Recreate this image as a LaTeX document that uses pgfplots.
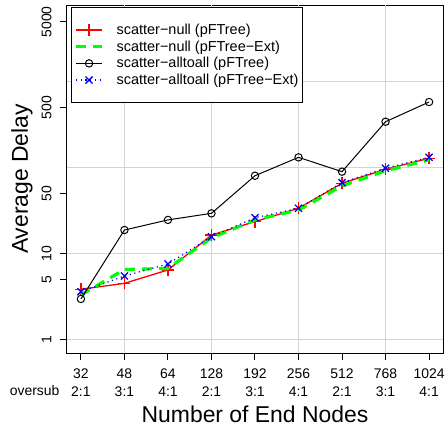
\documentclass[border=0pt]{standalone}
\usepackage{fontspec}
\setmainfont{Liberation Sans}
\usepackage{pgfplots}
\pgfplotsset{compat=1.18}
\definecolor{gridgray}{HTML}{D3D3D3}
\definecolor{rgreen}{HTML}{00FF00}
\definecolor{rblue}{HTML}{0000FF}
\definecolor{rred}{HTML}{FF0000}

\begin{document}
\begin{tikzpicture}
\begin{axis}[
  scale only axis,
  width=376bp, height=348bp,
  clip mode=individual,
  ymode=log,
  xmin=-0.32, xmax=8.32,
  ymin=0.706, ymax=7855,
  axis line style={black, line width=1bp},
  tick pos=left,
  tick align=outside,
  major tick length=7bp,
  tick style={black, line width=1bp},
  minor tick num=0,
  yminorticks=false,
  xtick={0,...,8},
  xticklabels={{32\\2:1},{48\\3:1},{64\\4:1},{128\\2:1},{192\\3:1},{256\\4:1},{512\\2:1},{768\\3:1},{1024\\4:1}},
  xticklabel style={align=center, font=\fontsize{14}{17.5}\selectfont},
  xticklabel shift=5.5bp,
  ytick={1,5,10,50,500,5000},
  yticklabels={1,5,10,50,500,5000},
  yticklabel style={rotate=90, anchor=south, font=\fontsize{14}{16}\selectfont},
  yticklabel shift=5bp,
  extra y ticks={1,10,100,1000},
  extra y tick labels={},
  extra x ticks={1,3,5,7},
  extra x tick labels={},
  extra tick style={grid=major, major tick length=0pt},
  major grid style={draw=gridgray, line width=1bp},
  xlabel={Number of End Nodes},
  ylabel={Average Delay},
  every axis x label/.style={at={(axis description cs:0.5,-0.1753)}, anchor=center, font=\fontsize{23}{26}\selectfont},
  every axis y label/.style={at={(axis description cs:-0.1197,0.5)}, rotate=90, anchor=center, font=\fontsize{23}{26}\selectfont},
  legend cell align=left,
  legend image code/.code={
    \draw[mark repeat=2,mark phase=2,#1] plot coordinates {(0bp,0bp) (13bp,0bp) (26bp,0bp)};
  },
  legend style={at={(axis description cs:0.0106,0.994)}, anchor=north west,
    draw=black, line width=1bp, fill=white,
    font=\fontsize{14.5}{16}\selectfont,
    inner xsep=3bp, inner ysep=15.5bp, row sep=2.7bp, column sep=12bp,
    nodes={inner sep=1bp}},
]
\addplot[rred, line width=1.3bp, mark=+, mark size=6bp, mark options={solid, line width=1.3bp}]
  coordinates {(0,3.89) (1,4.56) (2,6.52) (3,16.6) (4,23.8) (5,34.0) (6,66.4) (7,96.6) (8,129.7)};
\addlegendentry{scatter−null (pFTree)}
\addplot[rgreen, line width=3.2bp, dash pattern=on 10bp off 7bp]
  coordinates {(0,3.34) (1,6.6) (2,6.8) (3,15.4) (4,24.9) (5,32.5) (6,62) (7,93) (8,124)};
\addlegendentry{scatter−null (pFTree−Ext)}
\addplot[black, line width=1bp, mark=o, mark size=3.7bp, mark options={solid, line width=1bp}]
  coordinates {(0,3.0) (1,19.0) (2,24.9) (3,29.7) (4,81.3) (5,133) (6,90.6) (7,345) (8,585)};
\addlegendentry{scatter−alltoall (pFTree)}
\addplot[rblue, line width=1.2bp, dash pattern=on 1.2bp off 3.5bp, mark=x, mark size=5bp, mark options={solid, line width=1.3bp}]
  coordinates {(0,3.64) (1,5.55) (2,7.65) (3,15.9) (4,26.4) (5,34) (6,67.5) (7,99.3) (8,133)};
\addlegendentry{scatter−alltoall (pFTree−Ext)}
\node[anchor=base east, font=\fontsize{14}{17.5}\selectfont] at (axis description cs:-0.0106,-0.1207) {oversub};
\end{axis}
\pgfresetboundingbox
\path ([shift={(-67bp,-77bp)}]current axis.south west) rectangle ([shift={(2bp,5bp)}]current axis.north east);
\end{tikzpicture}
\end{document}
